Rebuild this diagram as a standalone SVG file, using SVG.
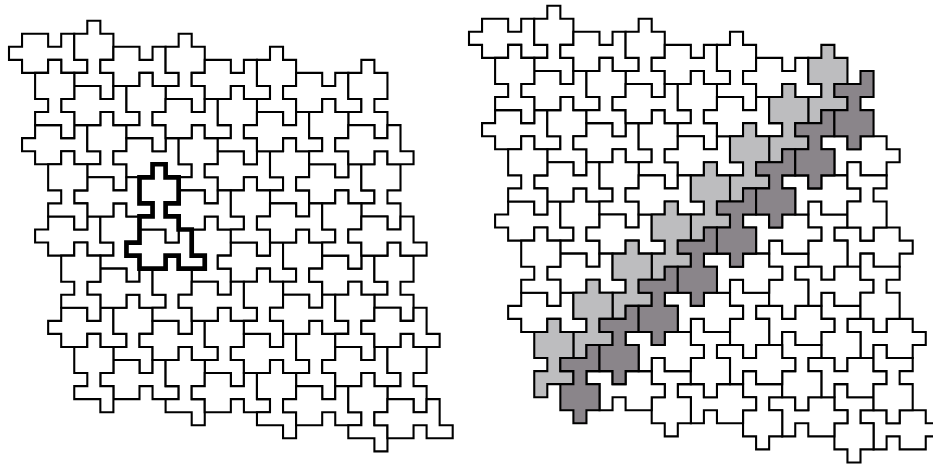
<svg xmlns="http://www.w3.org/2000/svg" xmlns:xlink="http://www.w3.org/1999/xlink" width="933" height="466" viewBox="0 0 933 466">
<style>
.t{stroke:#000;stroke-width:0.16;stroke-linejoin:miter}
.w{fill:#fff}
.lg{fill:#bdbdbf}
.dg{fill:#8a858a}
.bold{fill:none;stroke:#000;stroke-width:0.36;stroke-linejoin:miter}
</style>
<defs>
<path id="A" d="M0,2H1V1H3V2H4V1H5V3H6V4H4V3H3V4H1V3H0Z"/>
<path id="C" d="M6,0H7V1H8V3H7V4H8V6H7V5H5V4H6V3H5V1H6Z"/>
<path id="M" d="M6,0H7V1H8V3H7V4H8V5H6V6H5V4H6V3H5V1H6Z"/>
<g id="P"><use href="#A"/><use href="#C"/></g>
</defs>
<rect width="933" height="466" fill="#fff"/>
<g id="left" class="t w" transform="translate(9,20.7) scale(13.05)">
<use href="#P" x="0" y="0"/><use href="#P" x="7" y="1"/><use href="#P" x="14" y="2"/><use href="#P" x="21" y="3"/>
<use href="#P" x="1" y="7"/><use href="#P" x="8" y="8"/><use href="#P" x="15" y="9"/><use href="#P" x="22" y="10"/>
<use href="#P" x="2" y="14"/><use href="#P" x="9" y="15"/><use href="#P" x="16" y="16"/><use href="#P" x="23" y="17"/>
<use href="#P" x="3" y="21"/><use href="#P" x="10" y="22"/><use href="#P" x="17" y="23"/><use href="#P" x="24" y="24"/>
<use href="#P" x="4" y="4"/><use href="#P" x="11" y="5"/><use href="#P" x="18" y="6"/>
<use href="#P" x="5" y="11"/><use href="#P" x="12" y="12"/><use href="#P" x="19" y="13"/>
<use href="#P" x="6" y="18"/><use href="#P" x="13" y="19"/><use href="#P" x="20" y="20"/>
<use href="#P" x="7" y="25"/><use href="#P" x="14" y="26"/><use href="#P" x="21" y="27"/>
<use href="#A" x="25" y="7"/><use href="#A" x="26" y="14"/><use href="#A" x="27" y="21"/><use href="#A" x="28" y="28"/>
<use href="#C" x="-3" y="3"/><use href="#C" x="-2" y="10"/><use href="#C" x="-1" y="17"/><use href="#C" x="0" y="24"/>
<path id="bold-outline" class="bold" d="M11,11H12V12H13V14H12V15H13V16H14V18H15V19H13V18H12V19H10V18H9V17H10V15H11V14H10V12H11Z"/>
</g>
<g id="right" class="t" transform="translate(469,5.7) scale(13.05)">
<g id="half" class="w">
<use href="#P" x="0" y="0"/><use href="#P" x="7" y="1"/><use href="#P" x="14" y="2"/>
<use href="#P" x="1" y="7"/><use href="#P" x="8" y="8"/><use href="#P" x="2" y="14"/>
<use href="#P" x="4" y="4"/><use href="#P" x="11" y="5"/><use href="#P" x="5" y="11"/>
<use href="#A" x="21" y="3"/><use href="#A" x="15" y="9"/><use href="#A" x="9" y="15"/><use href="#A" x="3" y="21"/>
<use href="#A" x="18" y="6"/><use href="#A" x="12" y="12"/><use href="#A" x="6" y="18"/>
<use href="#C" x="-3" y="3"/><use href="#C" x="-2" y="10"/><use href="#C" x="-1" y="17"/>
</g>
<g id="strip" class="lg">
<use href="#M" x="21" y="3"/><use href="#M" x="18" y="6"/><use href="#M" x="15" y="9"/><use href="#M" x="12" y="12"/>
<use href="#M" x="9" y="15"/><use href="#M" x="6" y="18"/><use href="#M" x="3" y="21"/><use href="#M" x="0" y="24"/>
</g>
<use href="#half" transform="rotate(180 18 17.5)"/>
<g class="dg" transform="rotate(180 18 17.5)">
<use href="#M" x="21" y="3"/><use href="#M" x="18" y="6"/><use href="#M" x="15" y="9"/><use href="#M" x="12" y="12"/>
<use href="#M" x="9" y="15"/><use href="#M" x="6" y="18"/><use href="#M" x="3" y="21"/><use href="#M" x="0" y="24"/>
</g>
</g>
</svg>
